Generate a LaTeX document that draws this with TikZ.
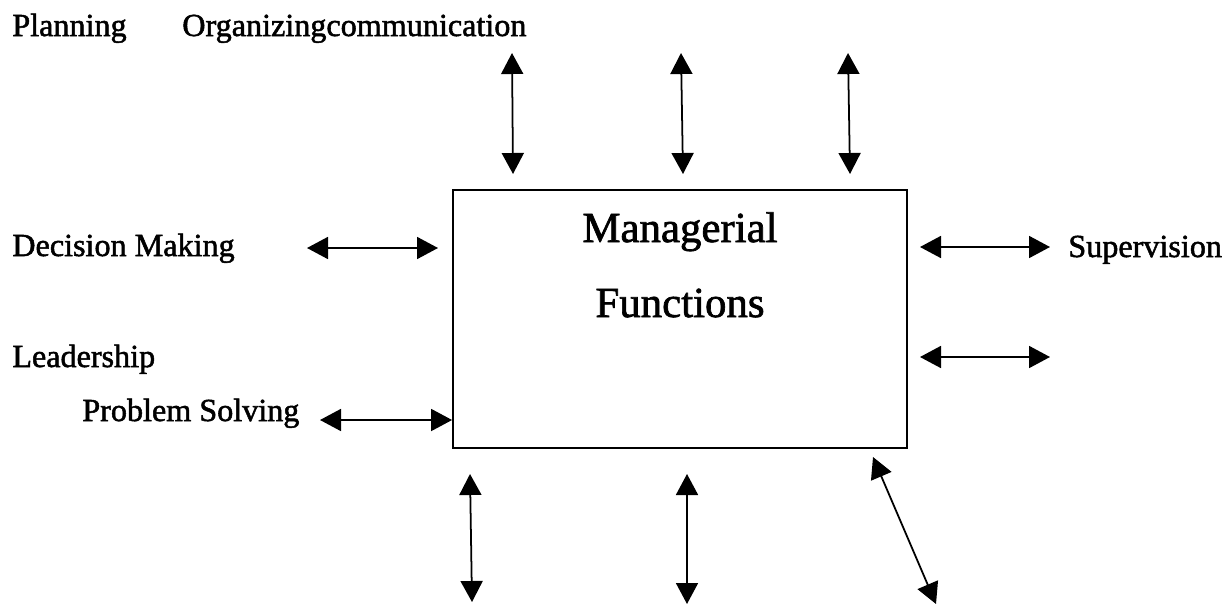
\documentclass[tikz,border=0pt]{standalone}
\usepackage{fontspec}
\setmainfont{Liberation Serif}
\newfontfamily\heavyserif[FakeBold=1.6]{Liberation Serif}
\usetikzlibrary{arrows.meta}

\begin{document}
\begin{tikzpicture}[
  x=0.02cm, y=-0.02cm,
  >={Triangle[length=0.42cm, width=0.44cm]},
  func/.style={
    anchor=base west, inner sep=0pt,
    font=\heavyserif\fontsize{18.3}{22}\selectfont
  },
  title/.style={
    anchor=base, inner sep=0pt,
    font=\heavyserif\fontsize{24.4}{29}\selectfont
  },
  mbox/.style={
    draw, line width=1.1pt, inner sep=0pt,
    minimum width=9.08cm, minimum height=5.16cm
  },
  arr/.style={<->, line width=1pt},
]
\useasboundingbox (0,0) rectangle (1229,605);

%% ── Central box ───────────────────────────────────────────────────────────
\node[mbox] (mf) at (680,319) {};
\node[title] (mgr) at (680,242) {Managerial};
\node[title] (fun) at (680,317) {Functions};

%% ── Function labels ───────────────────────────────────────────────────────
\node[func] (plan) at (12,36)   {Planning};
\node[func] (org)  at (182,36)  {Organizingcommunication};
\node[func] (dec)  at (12,256)  {Decision Making};
\node[func] (lead) at (12,367)  {Leadership};
\node[func] (prob) at (82,421)  {Problem Solving};
\node[func] (sup)  at (1068,257) {Supervision};

%% ── Arrow ends ────────────────────────────────────────────────────────────
\coordinate (t1a) at (512,53);  \coordinate (t1b) at (513,174);
\coordinate (t2a) at (681,53);  \coordinate (t2b) at (683,174);
\coordinate (t3a) at (848,53);  \coordinate (t3b) at (850,174);
\coordinate (l1a) at (307,248); \coordinate (l1b) at (438,248);
\coordinate (l2a) at (320,420); \coordinate (l2b) at (mf.west |- 0,420);
\coordinate (r1a) at (920,247); \coordinate (r1b) at (1050,247);
\coordinate (r2a) at (920,357); \coordinate (r2b) at (1050,357);
\coordinate (b1a) at (470,474); \coordinate (b1b) at (472,602);
\coordinate (b2a) at (687,474); \coordinate (b2b) at (687,604);
\coordinate (b3a) at (873,457); \coordinate (b3b) at (936,604);

%% ── Arrows ────────────────────────────────────────────────────────────────
\foreach \a/\b in {t1a/t1b, t2a/t2b, t3a/t3b, l1a/l1b, l2a/l2b,
                   r1a/r1b, r2a/r2b, b1a/b1b, b2a/b2b, b3a/b3b}
  \draw[arr] (\a) -- (\b);

\end{tikzpicture}
\end{document}
